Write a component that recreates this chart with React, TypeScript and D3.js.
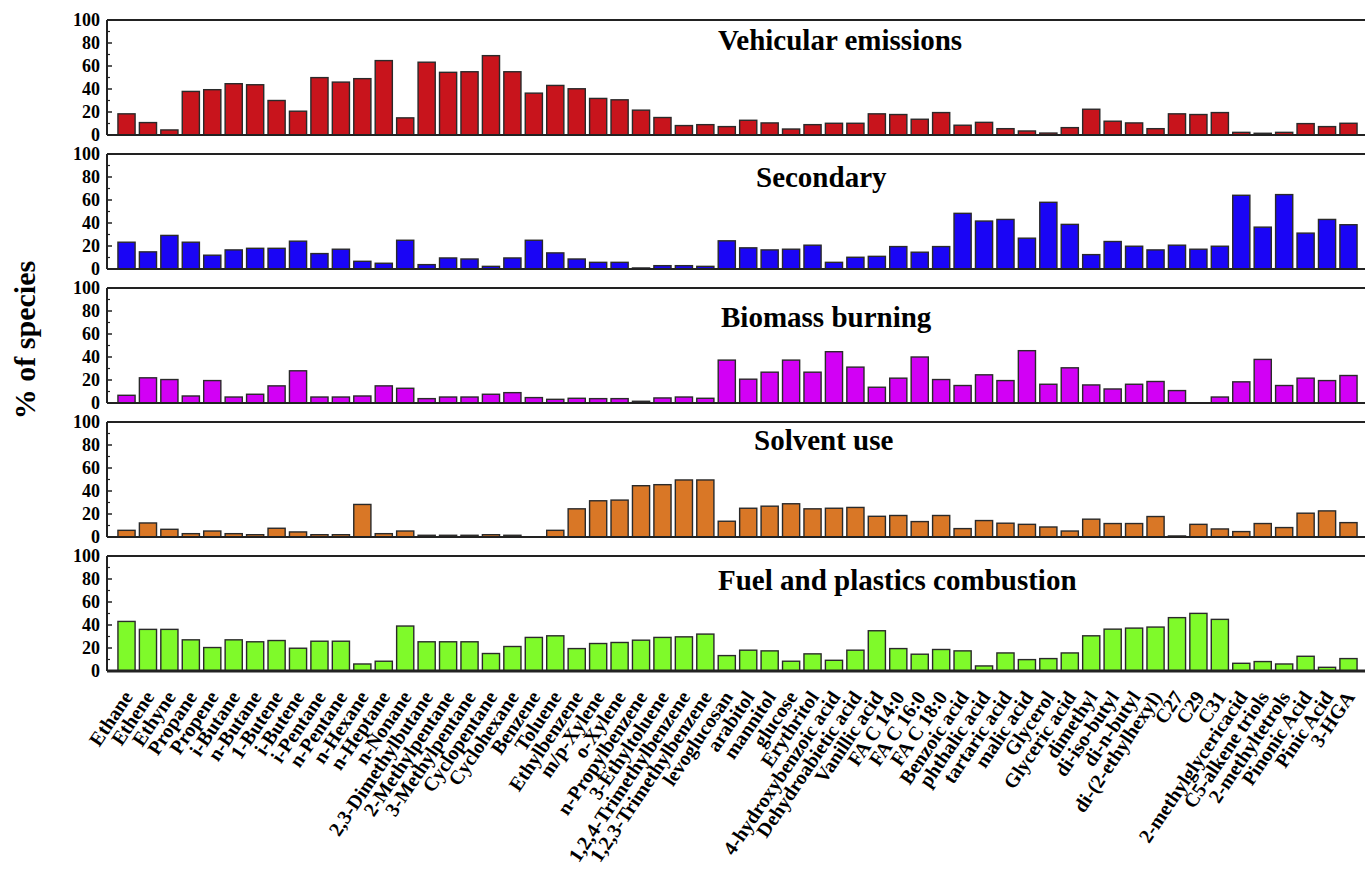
import * as d3 from "d3";

const categories = [
  "Ethane", "Ethene", "Ethyne", "Propane", "Propene", "i-Butane", "n-Butane", "1-Butene", "i-Butene",
  "i-Pentane", "n-Pentane", "n-Hexane", "n-Heptane", "n-Nonane", "2,3-Dimethylbutane", "2-Methylpentane",
  "3-Methylpentane", "Cyclopentane", "Cyclohexane", "Benzene", "Toluene", "Ethylbenzene", "m/p-Xylene",
  "o-Xylene", "n-Propylbenzene", "3-Ethyltoluene", "1,2,4-Trimethylbenzene", "1,2,3-Trimethylbenzene",
  "levoglucosan", "arabitol", "mannitol", "glucose", "Erythritol", "4-hydroxybenzoic acid",
  "Dehydroabietic acid", "Vanillic acid", "FA C 14:0", "FA C 16:0", "FA C 18:0", "Benzoic acid",
  "phthalic acid", "tartaric acid", "malic acid", "Glycerol", "Glyceric acid", "dimethyl", "di-iso-butyl",
  "di-n-butyl", "di-(2-ethylhexyl)", "C27", "C29", "C31", "2-methylglycericacid", "C5-alkene triols",
  "2-methyltetrols", "Pinonic Acid", "Pinic Acid", "3-HGA",
];

const vehicular = [
  18.4, 10.8, 4.4, 37.9, 39.4, 44.6, 43.7, 30, 20.7, 49.9, 46, 49, 64.7, 14.9, 63.3, 54.5,
  55, 69, 55, 36.4, 43.1, 40.2, 31.8, 30.6, 21.6, 15.2, 8.2, 9, 7.3, 12.8, 10.5, 5.2,
  9, 10.2, 10.2, 18.4, 17.8, 13.7, 19.5, 8.5, 11, 5.5, 3.5, 1.7, 6.4, 22.4, 12, 10.5,
  5.5, 18.4, 17.8, 19.5, 2.3, 1.5, 2.3, 9.9, 7.3, 10.2,
];
const secondary = [
  23.3, 14.9, 29.2, 23.3, 12, 16.6, 18, 18, 24.2, 13.4, 17.2, 6.7, 5, 25, 3.8, 9.6,
  8.7, 2.3, 9.6, 25, 14, 8.7, 5.8, 5.8, 0.9, 2.9, 2.9, 2.3, 24.5, 18.4, 16.6, 17.2,
  20.7, 5.8, 10.2, 11, 19.5, 14.6, 19.5, 48.4, 41.7, 43.1, 26.8, 58, 38.8, 12.5, 23.9, 19.8,
  16.6, 20.7, 17.2, 19.8, 64.1, 36.4, 64.7, 31.2, 43.1, 38.5,
];
const biomass = [
  6.7, 21.9, 20.4, 6.1, 19.5, 5.2, 7.6, 14.9, 28, 5.2, 5.2, 6.1, 14.9, 12.8, 3.8, 5.2,
  5.2, 7.6, 9, 4.7, 3.2, 4.1, 3.8, 3.8, 1.5, 4.4, 5.2, 4.1, 37.3, 20.7, 26.8, 37.3,
  26.8, 44.6, 31.2, 13.7, 21.6, 40, 20.4, 15.2, 24.5, 19.5, 45.5, 16.3, 30.6, 15.7, 12.2, 16.3,
  18.7, 10.8, 0, 5.2, 18.4, 37.9, 15.2, 21.6, 19.5, 23.9,
];
const solvent = [
  5.8, 12.2, 6.7, 2.9, 5.2, 2.9, 2, 7.6, 4.4, 2, 2, 28.3, 2.9, 5.2, 1.5, 1.5,
  1.5, 2, 1.5, 0, 5.8, 24.5, 31.5, 32.1, 44.6, 45.5, 49.6, 49.6, 13.7, 25, 26.8, 28.9,
  24.5, 25, 25.7, 18, 18.7, 13.4, 18.7, 7.3, 14.3, 12, 11, 8.7, 5.2, 15.5, 11.7, 11.7,
  17.8, 0.9, 11, 7, 4.7, 11.7, 8.2, 20.7, 22.7, 12.5,
];
const fuel = [
  43.1, 36.2, 36.2, 27.1, 20.4, 27.1, 25.4, 26.5, 19.8, 25.9, 25.9, 6.1, 8.5, 39.1, 25.4, 25.4,
  25.4, 15.2, 21.3, 29.2, 30.6, 19.5, 23.9, 24.8, 26.8, 29.2, 29.7, 32.1, 13.4, 18.1, 17.5, 8.5,
  14.9, 9.3, 18.1, 35, 19.5, 14.6, 18.7, 17.5, 4.4, 15.7, 9.9, 10.8, 15.7, 30.6, 36.4, 37.3,
  38.2, 46.4, 50.1, 44.9, 6.7, 8.2, 6.1, 12.8, 3.2, 10.8,
];

const panelTitles = ["Vehicular emissions", "Secondary", "Biomass burning", "Solvent use", "Fuel and plastics combustion"];
const panelSeries = [vehicular, secondary, biomass, solvent, fuel];
const panelColors = ["#c8141c", "#1a05f5", "#d200f5", "#d97726", "#7ffa2a"];
const titleX = [718, 756, 721, 754, 718];
const titleDy = [30, 33, 39, 28, 34];
const yTicks = [0, 20, 40, 60, 80, 100];
const yMinor = [10, 30, 50, 70, 90];

const FONT = "'Liberation Serif', 'Times New Roman', serif";

export default function App() {
  const width = 1365;
  const height = 883;
  const axisX = 107;
  const rightX = 1365;
  const panelH = 115;
  const panelStep = 134;
  const firstTop = 20;

  const x = d3
    .scaleBand<string>()
    .domain(categories)
    .range([115.8, 1359.2])
    .paddingInner(0.2)
    .paddingOuter(0.1);

  const lastBottom = firstTop + 4 * panelStep + panelH;

  return (
    <div style={{ position: "absolute", left: 0, top: 0 }}>
      <svg width={width} height={height} style={{ display: "block", background: "#fff" }} fontFamily={FONT}>
        {panelSeries.map((series, p) => {
          const top = firstTop + p * panelStep;
          const y = d3.scaleLinear().domain([0, 100]).range([top + panelH, top]);
          return (
            <g key={p}>
              {series.map((v, i) => (
                <rect
                  key={i}
                  x={x(categories[i])}
                  y={y(v)}
                  width={x.bandwidth()}
                  height={y(0) - y(v)}
                  fill={panelColors[p]}
                  stroke="#2a2a2a"
                  strokeWidth={1.4}
                />
              ))}
              <line x1={axisX} x2={rightX} y1={y(100)} y2={y(100)} stroke="#222" strokeWidth={2} />
              <line x1={axisX} x2={rightX} y1={y(0)} y2={y(0)} stroke="#222" strokeWidth={p === 4 ? 3 : 2} />
              <line x1={axisX} x2={axisX} y1={y(100)} y2={y(0)} stroke="#222" strokeWidth={2} />
              {yTicks.map((t) => (
                <g key={t}>
                  <line x1={axisX} x2={axisX + 5} y1={y(t)} y2={y(t)} stroke="#222" strokeWidth={1.5} />
                  <text
                    x={axisX - 7}
                    y={y(t)}
                    dy="0.35em"
                    textAnchor="end"
                    fontSize={18}
                    fontWeight="bold"
                  >
                    {t}
                  </text>
                </g>
              ))}
              {yMinor.map((t) => (
                <line key={t} x1={axisX} x2={axisX + 3} y1={y(t)} y2={y(t)} stroke="#222" strokeWidth={1.2} />
              ))}
              <text x={titleX[p]} y={top + titleDy[p]} fontSize={29} fontWeight="bold">
                {panelTitles[p]}
              </text>
            </g>
          );
        })}
        {categories.map((c) => {
          const cx = (x(c) as number) + x.bandwidth() / 2;
          return (
            <text
              key={c}
              transform={`translate(${cx + 7},${lastBottom + 26}) rotate(-56)`}
              textAnchor="end"
              fontSize={20}
              fontWeight="bold"
            >
              {c}
            </text>
          );
        })}
        <text
          transform={`translate(35,340) rotate(-90)`}
          textAnchor="middle"
          fontSize={30}
          fontWeight="bold"
        >
          % of species
        </text>
      </svg>
    </div>
  );
}
